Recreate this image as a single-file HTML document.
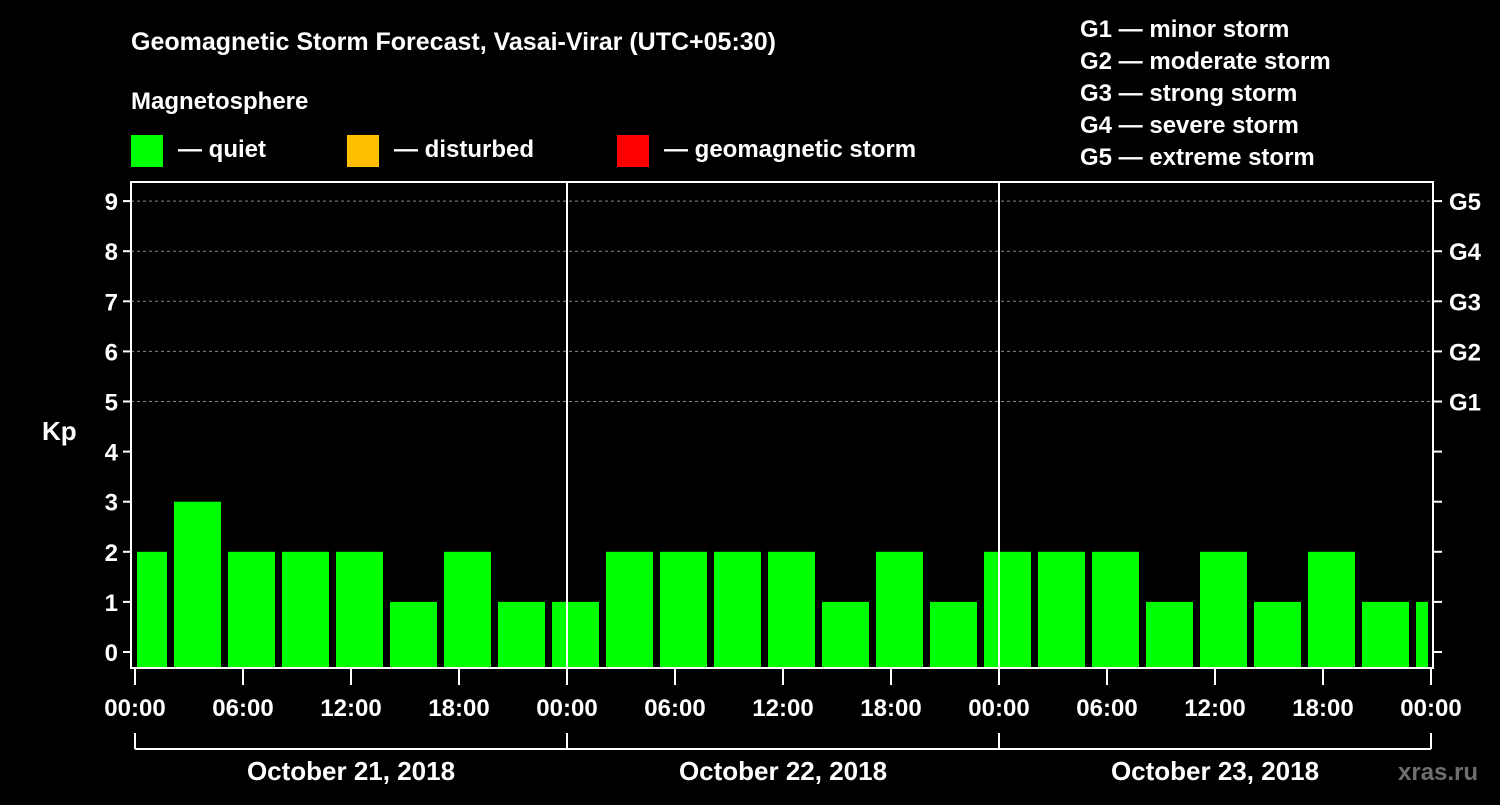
<!DOCTYPE html>
<html><head><meta charset="utf-8"><style>
body{margin:0;background:#000;width:1500px;height:800px;overflow:hidden}
svg text{font-family:"Liberation Sans",Arial,sans-serif;font-weight:bold;fill:#fff}
</style></head><body>
<svg id="c" width="1500" height="800">
<rect width="1500" height="800" fill="#000"/>
<text x="131" y="50" font-size="25">Geomagnetic Storm Forecast, Vasai-Virar (UTC+05:30)</text>
<text x="131" y="109" font-size="24">Magnetosphere</text>
<g><rect x="131" y="135" width="32" height="32" fill="#00ff00"/><text x="178" y="157" font-size="24">— quiet</text></g>
<g><rect x="347" y="135" width="32" height="32" fill="#ffbf00"/><text x="394" y="157" font-size="24">— disturbed</text></g>
<g><rect x="617" y="135" width="32" height="32" fill="#ff0000"/><text x="664" y="157" font-size="24">— geomagnetic storm</text></g>
<g font-size="24">
<text x="1080" y="37">G1 — minor storm</text>
<text x="1080" y="69">G2 — moderate storm</text>
<text x="1080" y="101">G3 — strong storm</text>
<text x="1080" y="133">G4 — severe storm</text>
<text x="1080" y="165">G5 — extreme storm</text>
</g>
<text x="42" y="440" font-size="26">Kp</text>
<text x="1398" y="780" font-size="24" style="fill:#6e6e6e">xras.ru</text>
<g id="grid"></g><g id="bars"></g><g id="axes"></g>
</svg>
<script>
const kpValues=[2,3,2,2,2,1,2,1,1,2,2,2,2,1,2,1,2,2,2,1,2,1,2,1,1];
const yTicks=[0,1,2,3,4,5,6,7,8,9];
const gLabels=["G1","G2","G3","G4","G5"];
const xTickLabels=["00:00","06:00","12:00","18:00","00:00","06:00","12:00","18:00","00:00","06:00","12:00","18:00","00:00"];
const dayLabels=["October 21, 2018","October 22, 2018","October 23, 2018"];
const firstBarHour=-0.833, barHours=3;
const NS="http://www.w3.org/2000/svg";
const X0=135,PXH=18,Y0=652,PXK=50.1,L=131,R=1433,T=182,B=668;
const xs=h=>X0+h*PXH, ys=k=>Y0-k*PXK;
function mk(p,tag,a){const e=document.createElementNS(NS,tag);for(const k in a)e.setAttribute(k,a[k]);p.appendChild(e);return e;}
const grid=document.getElementById('grid'),bars=document.getElementById('bars'),axes=document.getElementById('axes');
yTicks.forEach(k=>{
 if(k>=5){const l=mk(grid,'line',{x1:L,x2:R,y1:ys(k),y2:ys(k),stroke:'#888','stroke-dasharray':'3,3','stroke-width':1});
 
 }
 const t=mk(axes,'text',{x:L-13,y:ys(k)+9,'font-size':24,'text-anchor':'end'});t.textContent=k;
 
 
 mk(axes,'line',{x1:L-8,x2:L,y1:ys(k),y2:ys(k),stroke:'#fff','stroke-width':2});
 mk(axes,'line',{x1:R,x2:R+9,y1:ys(k),y2:ys(k),stroke:'#fff','stroke-width':2});
});
gLabels.forEach((g,i)=>{const t=mk(axes,'text',{x:R+16,y:ys(5+i)+9,'font-size':24});t.textContent=g;
 
 });
kpValues.forEach((v,i)=>{
 let x1=xs(firstBarHour+i*barHours),x2=x1+47;
 x1=Math.max(x1,X0+2);x2=Math.min(x2,1428);
 const c=v>=5?'#ff0000':(v>=4?'#ffbf00':'#00ff00');
 const r=mk(bars,'rect',{x:x1,y:ys(v),width:x2-x1,height:B-1-ys(v),fill:c});
 
 
});
mk(axes,'rect',{x:L,y:T,width:R-L,height:B-T,fill:'none',stroke:'#fff','stroke-width':2});
[1,2].forEach(d=>mk(axes,'line',{x1:xs(24*d),x2:xs(24*d),y1:T,y2:B,stroke:'#fff','stroke-width':2}));
xTickLabels.forEach((s,i)=>{const x=xs(i*6);
 mk(axes,'line',{x1:x,x2:x,y1:B,y2:B+17,stroke:'#fff','stroke-width':2});
 const t=mk(axes,'text',{x:x,y:716,'font-size':24,'text-anchor':'middle'});t.textContent=s;
 
 
});
mk(axes,'line',{x1:xs(0),x2:xs(72),y1:749,y2:749,stroke:'#fff','stroke-width':2});
for(let d=0;d<=3;d++)mk(axes,'line',{x1:xs(24*d),x2:xs(24*d),y1:733,y2:749,stroke:'#fff','stroke-width':2});
dayLabels.forEach((s,i)=>{const t=mk(axes,'text',{x:xs(24*i+12),y:780,'font-size':26,'text-anchor':'middle'});t.textContent=s;
 
 });
</script>
</body></html>
